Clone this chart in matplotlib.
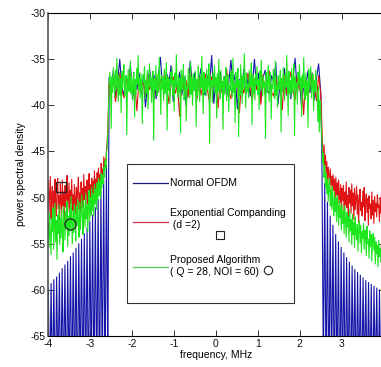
import numpy as np
import matplotlib

matplotlib.use("Agg")
import matplotlib.pyplot as plt
from matplotlib.patches import Rectangle

plt.rcParams["font.family"] = ["Liberation Sans", "DejaVu Sans"]
plt.rcParams["axes.unicode_minus"] = False

# PSD values (dB): left skirt, in-band, right skirt
blue_left = [
    -59.8, -72, -59.3, -71, -58.9, -73, -58.6, -70, -58.2, -72,
    -57.7, -71, -57.3, -73, -56.9, -70, -56.4, -72, -56.0, -71,
    -55.5, -73, -55.0, -70, -54.5, -72, -53.9, -71, -53.3, -73,
    -52.6, -70, -51.9, -72, -51.1, -71, -50.2, -73, -49.2, -70,
    -48.0, -71, -46.5, -69,
]
blue_mid = [
    -37.0, -38.6, -36.2, -39.1, -37.5, -35.0, -38.1, -38.9, -36.8, -37.9,
    -35.6, -39.4, -37.2, -38.3, -36.5, -38.8, -36.9, -40.2, -37.7, -36.1,
    -38.4, -36.7, -39.3, -37.0, -34.8, -38.0, -38.7, -36.6, -37.6, -35.7,
    -39.6, -37.3, -38.2, -36.4, -38.9, -36.9, -40.0, -37.8, -35.2, -38.1,
    -36.5, -39.2, -37.4, -36.0, -38.5, -38.9, -36.8, -37.7, -34.6, -39.8,
    -37.1, -38.2, -36.4, -38.7, -36.9, -39.1, -37.5, -35.1, -37.9, -36.6,
    -40.4, -37.2, -38.6, -36.1, -38.8, -37.0, -39.0, -37.8, -35.0, -38.3,
    -36.5, -39.5, -37.0, -36.2, -38.5, -38.7, -36.8, -37.4, -35.4, -39.9,
    -37.6, -38.0, -36.0, -38.9, -36.7, -39.3, -37.3, -34.9, -38.4, -36.9,
    -40.1, -37.9, -38.2, -36.3, -38.6, -36.5, -39.4, -37.1, -35.5, -38.6,
]
blue_right = [
    -46.5, -69, -48.5, -71, -50.5, -73, -52.0, -70, -53.0, -72,
    -54.0, -71, -54.8, -73, -55.4, -70, -56.0, -72, -56.5, -71,
    -57.0, -73, -57.4, -70, -57.8, -72, -58.1, -71, -58.4, -73,
    -58.7, -70, -59.0, -72, -59.2, -71, -59.4, -73, -59.6, -70,
    -59.8, -72, -60.0, -71, -60.2, -73,
]

red_left = [
    -48.2, -51.5, -49.6, -47.7, -52.3, -50.1, -48.8, -51.9, -49.3, -53.4, -48.0, -50.7, -52.0, -49.0, -47.9,
    -51.2, -49.8, -52.6, -48.5, -50.4, -51.7, -48.1, -50.9, -49.4, -52.8, -48.7, -51.0, -49.9, -47.6, -51.6,
    -50.0, -48.4, -52.1, -49.2, -50.6, -48.0, -51.4, -49.7, -53.0, -48.6, -50.3, -51.8, -48.9, -50.8, -49.1,
    -47.8, -51.3, -49.5, -52.4, -48.3, -50.5, -49.0, -51.1, -47.5, -50.2, -48.8, -51.5, -49.3, -48.1, -50.7,
    -49.6, -47.4, -50.9, -48.6, -51.2, -47.9, -49.8, -48.2, -50.4, -47.1, -49.3, -48.0, -50.1, -47.3, -49.0,
    -46.8, -48.7, -47.5, -49.2, -46.3, -48.1, -46.9, -47.7, -45.6, -47.0, -45.9, -46.2, -44.8, -44.0, -42.6,
]
red_mid = [
    -37.6, -38.9, -36.8, -39.6, -37.9, -36.5, -38.4, -39.2, -37.1, -38.2,
    -36.3, -38.8, -37.4, -40.6, -37.0, -38.5, -37.3, -39.0, -36.6, -38.3,
    -37.7, -39.4, -36.9, -38.6, -37.2, -38.1, -36.4, -38.0, -39.8, -37.5,
    -36.9, -38.7, -37.8, -41.2, -36.7, -38.4, -37.3, -39.1, -36.2, -38.6,
    -37.5, -39.5, -37.0, -38.9, -37.7, -36.6, -38.3, -39.7, -36.9, -38.0,
    -37.4, -40.3, -36.8, -38.8, -37.9, -36.1, -38.5, -39.3, -37.2, -38.1,
    -37.6, -40.8, -36.9, -38.7, -37.6, -36.5, -38.2, -39.6, -37.1, -38.3,
    -37.3, -39.9, -36.7, -38.9, -37.8, -36.3, -38.6, -39.0, -37.0, -38.2,
    -37.4, -40.5, -36.8, -38.8, -37.5, -36.4, -38.4, -39.4, -36.9, -38.4,
    -37.1, -41.0, -37.0, -39.2, -37.7, -36.6, -38.0, -39.5, -36.8, -38.7,
]
red_right = [
    -42.7, -44.6, -45.9, -44.3, -46.8, -45.4, -47.5, -46.1, -48.2, -46.7, -47.4, -49.3, -46.9, -48.6, -47.7,
    -50.1, -47.5, -49.2, -48.0, -50.7, -47.8, -49.7, -48.4, -51.2, -48.1, -49.6, -50.5, -48.6, -51.5, -49.0,
    -50.3, -48.7, -51.9, -49.4, -50.8, -48.3, -51.1, -49.8, -52.2, -48.9, -50.6, -49.2, -51.7, -48.5, -50.9,
    -49.5, -52.4, -49.0, -51.3, -50.0, -48.8, -51.8, -49.7, -52.7, -50.2, -49.1, -51.4, -50.5, -52.0, -49.3,
    -51.0, -48.9, -52.5, -50.4, -49.6, -51.6, -50.1, -53.0, -49.8, -51.2, -50.7, -52.3, -49.4, -51.9, -50.3,
    -52.8, -49.9, -51.5, -50.6, -52.1, -49.7, -51.1, -50.8, -52.6, -50.0, -51.7, -49.5, -52.4, -50.9, -51.3,
]

green_left = [
    -52.8, -55.4, -51.6, -54.0, -56.2, -52.3, -53.7, -51.1, -55.6, -53.0, -50.6, -54.8, -52.5, -56.7, -51.9,
    -53.9, -50.8, -55.1, -52.2, -54.4, -51.3, -53.4, -55.9, -50.9, -52.7, -54.6, -51.5, -53.3, -50.4, -55.3,
    -52.0, -54.1, -51.2, -53.6, -49.9, -52.9, -55.0, -51.4, -53.8, -50.7, -52.4, -54.7, -51.0, -53.1, -50.2,
    -52.6, -54.3, -50.5, -53.5, -51.8, -49.7, -52.1, -54.0, -50.3, -51.7, -53.2, -49.5, -52.3, -50.8, -53.7,
    -51.1, -49.2, -52.5, -50.0, -51.9, -48.9, -51.4, -49.6, -52.0, -48.6, -50.7, -49.1, -51.3, -48.4, -50.3,
    -47.9, -49.8, -48.2, -50.1, -47.4, -49.0, -47.6, -48.5, -46.7, -47.8, -46.0, -46.9, -45.2, -44.6, -43.0,
]
green_mid = [
    -38.0, -36.4, -37.8, -42.5, -36.9, -38.6, -35.9, -37.4, -39.1, -36.2, -38.3, -34.9, -37.7, -39.6, -36.6,
    -38.9, -37.1, -40.8, -36.3, -38.2, -37.0, -35.6, -39.0, -37.5, -36.8, -43.2, -37.9, -36.1, -38.5, -37.3,
    -35.2, -38.7, -36.9, -39.4, -37.6, -36.4, -41.3, -37.2, -38.8, -36.0, -37.7, -34.6, -38.4, -37.0, -39.2,
    -36.5, -38.1, -42.0, -36.7, -37.5, -35.8, -39.3, -37.3, -38.6, -36.2, -40.4, -37.8, -35.5, -38.0, -36.9,
    -39.7, -37.4, -36.3, -43.8, -37.1, -38.3, -35.7, -37.9, -39.0, -36.6, -38.5, -34.8, -37.6, -41.0, -36.8,
    -38.2, -37.0, -39.5, -36.1, -38.7, -37.5, -35.4, -42.7, -36.9, -38.4, -37.2, -39.8, -36.4, -37.7, -35.9,
    -38.9, -37.3, -40.6, -36.5, -38.0, -34.5, -37.8, -39.1, -36.7, -38.6, -37.1, -43.0, -36.2, -38.3, -37.4,
    -35.6, -39.4, -37.6, -36.8, -41.7, -37.9, -38.2, -36.0, -37.5, -39.2, -35.3, -38.8, -37.0, -40.0, -36.6,
    -38.4, -37.7, -36.3, -42.3, -37.2, -38.9, -35.8, -37.4, -39.6, -36.9, -38.1, -34.7, -37.8, -40.9, -36.4,
    -38.6, -37.1, -39.0, -36.1, -38.3, -37.6, -35.5, -44.1, -36.8, -38.0, -37.3, -39.7, -36.5, -37.9, -35.7,
    -38.7, -37.0, -41.4, -36.6, -38.5, -35.0, -37.7, -39.3, -36.2, -38.2, -37.4, -42.6, -36.9, -38.8, -37.5,
    -35.9, -39.5, -37.2, -36.7, -40.7, -37.8, -38.4, -36.3, -37.1, -39.1, -34.9, -38.6, -37.6, -41.9, -36.4,
    -38.1, -37.9, -36.0, -43.4, -37.3, -38.9, -35.6, -37.5, -39.8, -36.8, -38.3, -34.4, -37.0, -40.3, -36.5,
    -38.5, -37.7, -39.2, -36.2, -38.0, -37.4, -35.4, -42.1, -36.7, -38.7, -37.1, -39.4, -36.6, -37.8, -35.8,
    -38.8, -37.2, -40.5, -36.3, -38.4, -35.1, -37.6, -39.0, -36.9, -38.1, -37.5, -43.6, -36.4, -38.6, -37.3,
    -35.7, -39.6, -37.0, -36.5, -41.5, -37.7, -38.2, -36.1, -37.4, -39.3, -35.2, -38.9, -37.8, -40.2, -36.8,
    -38.3, -37.5, -36.2, -42.9, -37.1, -38.5, -35.9, -37.6, -39.5, -36.6, -38.0, -34.6, -37.9, -41.1, -36.3,
    -38.7, -37.3, -39.1, -36.0, -38.6, -37.2, -35.5, -43.3, -36.9, -38.2, -37.6, -39.9, -36.4, -37.7, -35.6,
    -38.4, -37.0, -41.2, -36.7, -38.1, -34.8, -37.8, -39.4, -36.5, -38.9, -37.4, -42.4, -36.1, -38.3, -37.1,
    -35.8, -39.2, -37.7, -36.6, -40.6, -37.3, -38.5, -36.2, -37.9, -39.0, -41.8, -38.0, -42.9, -39.5, -40.8,
]
green_right = [
    -44.0, -46.3, -45.2, -47.8, -46.5, -48.9, -47.3, -49.6, -48.0, -50.4, -48.7, -47.9, -50.9, -49.1, -51.3,
    -48.8, -50.6, -52.0, -49.4, -51.5, -50.1, -52.6, -49.8, -51.1, -53.0, -50.3, -52.2, -51.0, -53.5, -50.7,
    -52.8, -51.4, -53.9, -50.9, -52.5, -54.3, -51.6, -53.2, -52.0, -54.8, -51.3, -53.6, -52.4, -55.1, -51.8,
    -54.0, -52.7, -55.4, -52.1, -53.8, -54.6, -52.9, -55.8, -53.3, -52.5, -54.9, -53.0, -56.0, -53.7, -54.4,
    -52.8, -55.6, -53.5, -54.2, -56.3, -53.1, -55.0, -54.5, -56.6, -53.6, -55.3, -54.0, -56.9, -54.7, -53.9,
    -55.7, -54.3, -57.2, -54.8, -56.1, -55.2, -57.5, -54.6, -56.4, -55.5, -57.0, -54.9, -56.8, -55.8, -57.3,
]

labels = ["Normal OFDM", "Exponential Companding\n (d =2)", "Proposed Algorithm\n( Q = 28, NOI = 60)"]
colors = ["#1414a8", "#e01414", "#1ee61e"]
legend_colors = ["#1a1a80", "#cc3344", "#55cc55"]
square_at = (-3.69, -48.8)
circle_at = (-3.48, -52.9)


def freq_axis(left, mid, right):
    return np.concatenate([
        np.linspace(-4.0, -2.58, len(left)),
        np.linspace(-2.55, 2.5, len(mid)),
        np.linspace(2.53, 4.0, len(right)),
    ])


series = [
    (blue_left, blue_mid, blue_right),
    (red_left, red_mid, red_right),
    (green_left, green_mid, green_right),
]

fig = plt.figure(figsize=(3.81, 3.67), dpi=100)
ax = fig.add_axes([0.1268, 0.0845, 0.880, 0.880])

for (left, mid, right), color in zip(series, colors):
    f = freq_axis(left, mid, right)
    psd = np.concatenate([left, mid, right])
    ax.plot(f, psd, color=color, linewidth=0.8)

ax.plot(*square_at, marker="s", markersize=7.5, markerfacecolor="none",
        markeredgecolor="#222222", markeredgewidth=0.9)
ax.plot(*circle_at, marker="o", markersize=8, markerfacecolor="none",
        markeredgecolor="#222222", markeredgewidth=0.9)

ax.set_xlim(-4, 4)
ax.set_ylim(-65, -30)
ax.set_xticks(range(-4, 4))
ax.set_yticks(range(-65, -29, 5))
ax.tick_params(direction="in", length=4, width=0.6, labelsize=7.5, pad=2,
               top=True, right=True, colors="#111111")
for side in ["top", "bottom", "right"]:
    ax.spines[side].set_linewidth(0.8)
ax.spines["left"].set_color("#555555")
ax.spines["left"].set_linewidth(1.2)

ax.set_xlabel("frequency, MHz", fontsize=7.5, labelpad=1)
ax.set_ylabel("power spectral density", fontsize=7.5, labelpad=3)

# hand-drawn legend box, like the MATLAB one
ax.add_patch(Rectangle((0.235, 0.102), 0.498, 0.430, transform=ax.transAxes,
                       facecolor="white", edgecolor="#333333", linewidth=0.8, zorder=5))
line_y = [0.474, 0.353, 0.214]
text_y = [0.474, 0.363, 0.218]
for lab, c, ly, ty in zip(labels, legend_colors, line_y, text_y):
    ax.plot([0.253, 0.357], [ly, ly], color=c, linewidth=0.9, transform=ax.transAxes, zorder=6)
    ax.text(0.363, ty, lab, transform=ax.transAxes, fontsize=7.5, va="center", ha="left",
            linespacing=1.25, zorder=6)
ax.plot(0.513, 0.313, marker="s", markersize=5.5, markerfacecolor="none", markeredgecolor="#222222",
        markeredgewidth=0.8, transform=ax.transAxes, zorder=6)
ax.plot(0.655, 0.205, marker="o", markersize=6, markerfacecolor="none", markeredgecolor="#222222",
        markeredgewidth=0.8, transform=ax.transAxes, zorder=6)

fig.savefig("out.png", dpi=100)
